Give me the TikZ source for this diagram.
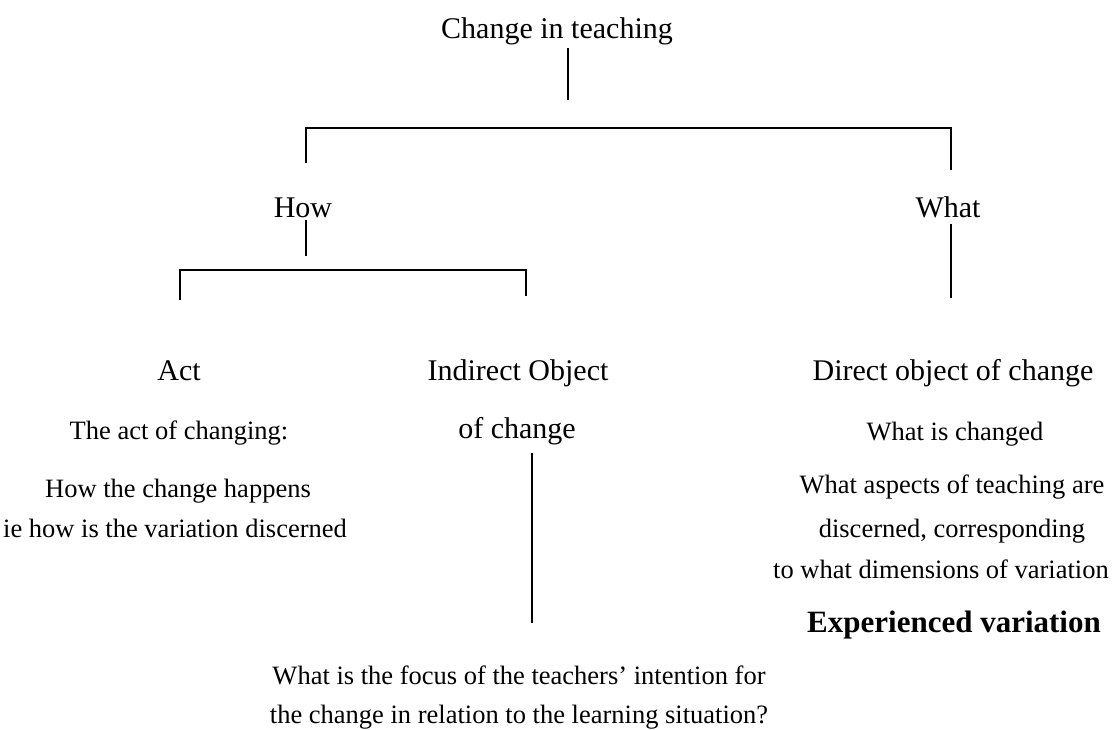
\documentclass[tikz,border=0pt]{standalone}
\usepackage{fontspec}
\setmainfont{Liberation Serif}
\begin{document}
\begin{tikzpicture}[x=1pt,y=-1pt,
  conn/.style={line width=1.8pt,line cap=butt,line join=miter},
  mainlbl/.style={anchor=base,inner sep=0pt,font=\fontsize{30}{36}\selectfont},
  smalllbl/.style={anchor=base,inner sep=0pt,font=\fontsize{26.5}{31}\selectfont},
  boldlbl/.style={anchor=base,inner sep=0pt,font=\fontsize{31}{37}\selectfont\bfseries}]
\useasboundingbox (0,0) rectangle (1118,729);
% labels
\node[mainlbl] (root) at (557,38) {Change in teaching};
\node[mainlbl] (how) at (303,217) {How};
\node[mainlbl] (what) at (948,217) {What};
\node[mainlbl] (act) at (179,380) {Act};
\node[mainlbl] (indirect) at (518,380) {Indirect Object};
\node[mainlbl] (indirectb) at (517,438) {of change};
\node[mainlbl] (direct) at (953,380) {Direct object of change};
\node[smalllbl] (actA) at (179,439) {The act of changing:};
\node[smalllbl] (actB) at (178,497) {How the change happens};
\node[smalllbl] (actC) at (175,537) {ie how is the variation discerned};
\node[smalllbl] (dirA) at (955,440) {What is changed};
\node[smalllbl] (dirB) at (952,493) {What aspects of teaching are};
\node[smalllbl] (dirC) at (952,537) {discerned, corresponding};
\node[smalllbl] (dirD) at (941,578) {to what dimensions of variation};
\node[boldlbl] (exp) at (954,632) {Experienced variation};
\node[smalllbl] (qA) at (519,684) {What is the focus of the teachers’ intention for};
\node[smalllbl] (qB) at (519,723) {the change in relation to the learning situation?};
% connector coordinates
\coordinate (rootT) at (568,48);
\coordinate (rootB) at (568,100);
\coordinate (barL) at (306,128);
\coordinate (barR) at (951,128);
\coordinate (dropL) at (306,163);
\coordinate (dropR) at (951,170);
\coordinate (howT) at (306,220);
\coordinate (howB) at (306,256);
\coordinate (whatT) at (951,224);
\coordinate (whatB) at (951,298);
\coordinate (bar2L) at (180,270);
\coordinate (bar2R) at (526,270);
\coordinate (drop2L) at (180,300);
\coordinate (drop2R) at (526,296);
\coordinate (indT) at (532,453);
\coordinate (indB) at (532,623);
% connectors
\draw[conn] (rootT) -- (rootB);
\draw[conn] (dropL) -- (barL) -- (barR) -- (dropR);
\draw[conn] (howT) -- (howB);
\draw[conn] (whatT) -- (whatB);
\draw[conn] (drop2L) -- (bar2L) -- (bar2R) -- (drop2R);
\draw[conn] (indT) -- (indB);
\end{tikzpicture}
\end{document}
